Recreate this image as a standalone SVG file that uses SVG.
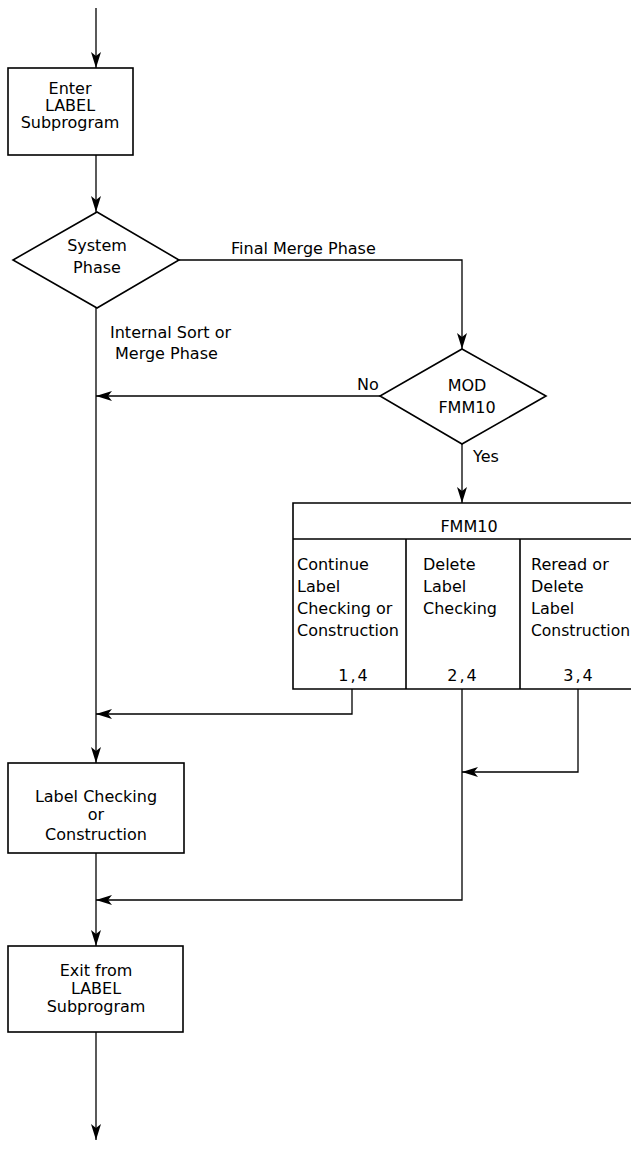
<svg xmlns="http://www.w3.org/2000/svg" width="631" height="1150" viewBox="0 0 631 1150">
<style>
.box{fill:none;stroke:#000;stroke-width:1.6}
.ln{fill:none;stroke:#000;stroke-width:1.3}
.t{font-family:"DejaVu Sans",sans-serif;font-size:16px;fill:#000}
.c{text-anchor:middle}
.n{letter-spacing:2px}
</style>
<defs>
<marker id="ah" viewBox="0 0 16 10" refX="16" refY="5" markerWidth="16" markerHeight="10" markerUnits="userSpaceOnUse" orient="auto">
<path d="M0,0 L16,5 L0,10 L4,5 Z" fill="#000"/>
</marker>
</defs>
<rect width="631" height="1150" fill="#fff"/>
<g id="connectors">
<path class="ln" d="M96,8 V68" marker-end="url(#ah)"/>
<path class="ln" d="M96,155 V212" marker-end="url(#ah)"/>
<path class="ln" d="M179,260 H462 V349" marker-end="url(#ah)"/>
<path class="ln" d="M380,396 H96" marker-end="url(#ah)"/>
<path class="ln" d="M96,308 V763" marker-end="url(#ah)"/>
<path class="ln" d="M462,444 V503" marker-end="url(#ah)"/>
<path class="ln" d="M352,689 V714 H96" marker-end="url(#ah)"/>
<path class="ln" d="M578,689 V772 H462" marker-end="url(#ah)"/>
<path class="ln" d="M462,689 V900 H96" marker-end="url(#ah)"/>
<path class="ln" d="M96,853 V946" marker-end="url(#ah)"/>
<path class="ln" d="M96,1032 V1140" marker-end="url(#ah)"/>
</g>
<g id="n_enter">
<rect class="box" x="8" y="68" width="125" height="87"/>
<text class="t c" x="70" y="94">Enter</text>
<text class="t c" x="70" y="111">LABEL</text>
<text class="t c" x="70" y="128">Subprogram</text>
</g>
<g id="n_system">
<polygon class="box" points="97,212 179,260 97,308 13,260"/>
<text class="t c" x="97" y="251">System</text>
<text class="t c" x="97" y="273">Phase</text>
</g>
<g id="lbl_final">
<text class="t" x="231" y="254">Final Merge Phase</text>
</g>
<g id="lbl_internal">
<text class="t" x="110" y="338">Internal Sort or</text>
<text class="t" x="115" y="359">Merge Phase</text>
</g>
<g id="n_mod">
<polygon class="box" points="462,349 546,396 462,444 380,396"/>
<text class="t c" x="467" y="391">MOD</text>
<text class="t c" x="467" y="413">FMM10</text>
</g>
<g id="lbl_no"><text class="t c" x="368" y="390">No</text></g>
<g id="lbl_yes"><text class="t" x="473" y="462">Yes</text></g>
<g id="n_fmm10">
<path class="box" d="M640,503 H293 V689 H640 M293,539 H640 M406,539 V689 M520,539 V689"/>
<text class="t c" x="469" y="532">FMM10</text>
<text class="t" x="297" y="570">Continue</text>
<text class="t" x="297" y="592">Label</text>
<text class="t" x="297" y="614">Checking or</text>
<text class="t" x="297" y="636">Construction</text>
<text class="t c n" x="354" y="681">1,4</text>
<text class="t" x="423" y="570">Delete</text>
<text class="t" x="423" y="592">Label</text>
<text class="t" x="423" y="614">Checking</text>
<text class="t c n" x="463" y="681">2,4</text>
<text class="t" x="531" y="570">Reread or</text>
<text class="t" x="531" y="592">Delete</text>
<text class="t" x="531" y="614">Label</text>
<text class="t" x="531" y="636" textLength="99" lengthAdjust="spacingAndGlyphs">Construction</text>
<text class="t c n" x="579" y="681">3,4</text>
</g>
<g id="n_check">
<rect class="box" x="8" y="763" width="176" height="90"/>
<text class="t c" x="96" y="802">Label Checking</text>
<text class="t c" x="96" y="820">or</text>
<text class="t c" x="96" y="840">Construction</text>
</g>
<g id="n_exit">
<rect class="box" x="8" y="946" width="175" height="86"/>
<text class="t c" x="96" y="976">Exit from</text>
<text class="t c" x="96" y="994">LABEL</text>
<text class="t c" x="96" y="1012">Subprogram</text>
</g>
</svg>
